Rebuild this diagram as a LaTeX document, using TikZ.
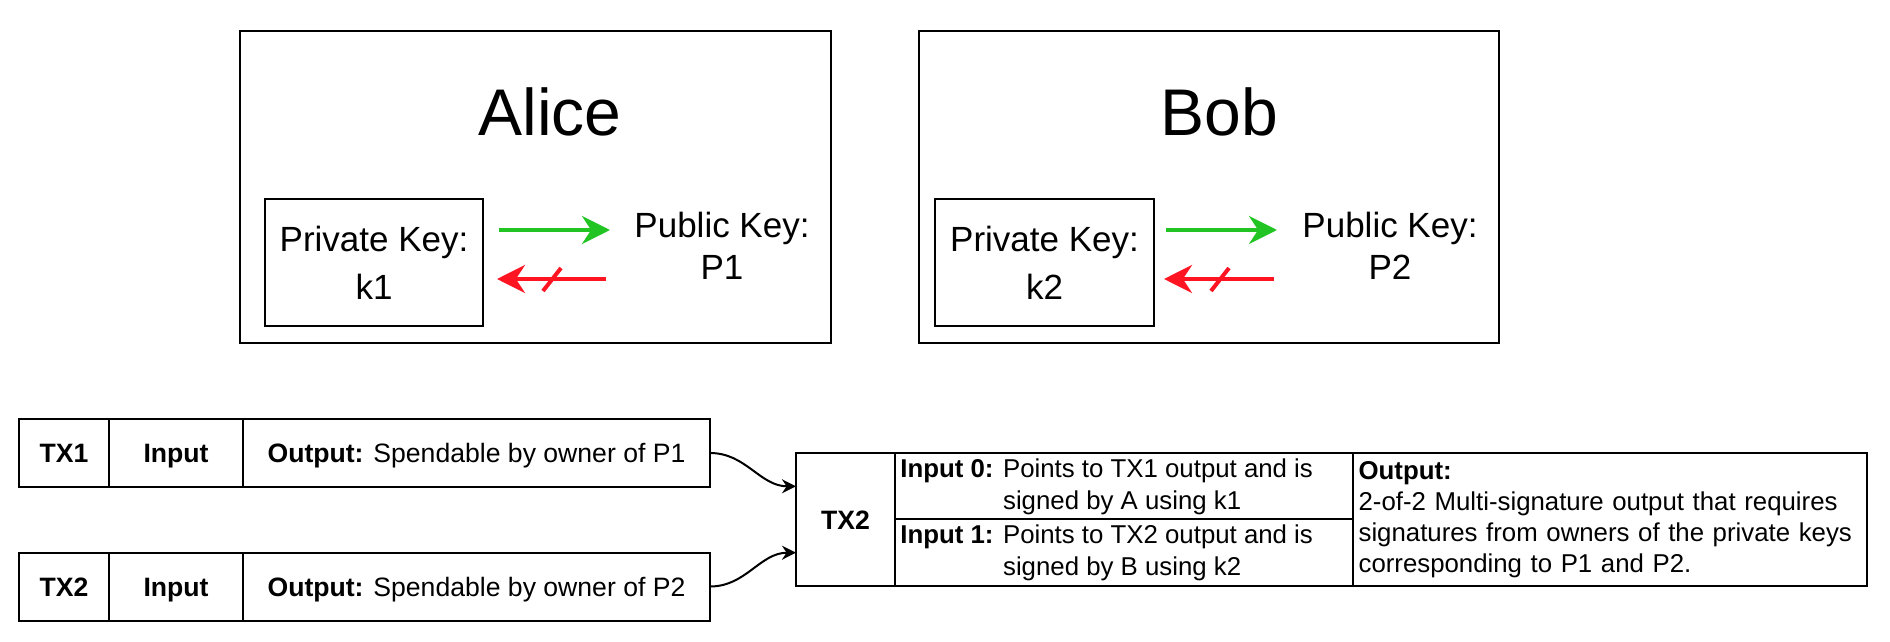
\documentclass[tikz,border=0pt]{standalone}
\usepackage{fontspec}
\setmainfont{Liberation Sans}
\usetikzlibrary{arrows.meta}

\definecolor{keygreen}{RGB}{34,196,36}
\definecolor{keyred}{RGB}{255,20,34}

\begin{document}
\begin{tikzpicture}[x=0.5pt,y=0.5pt,
    frame/.style={draw,line width=1pt,inner sep=0pt,outer sep=0pt},
    keytext/.style={align=center,inner sep=0pt,font=\fontsize{17.5}{24}\selectfont},
    owner/.style={anchor=base,inner sep=0pt,font=\fontsize{33}{40}\selectfont},
    cell/.style={draw,line width=1pt,inner sep=0pt,outer sep=0pt,minimum height=34pt,text height=9.5pt,text depth=0pt,font=\fontsize{13.3}{16}\selectfont},
    infotext/.style={inner sep=0pt,anchor=west,font=\fontsize{12.9}{16}\selectfont},
    wide/.style={draw,line width=1pt,inner xsep=2.8pt,inner ysep=0pt,outer sep=0pt,align=left,font=\fontsize{12.9}{15.5}\selectfont},
    derive/.style={draw=keygreen,line width=2pt,-{Stealth[length=14pt,width=14pt]}},
    noderive/.style={draw=keyred,line width=2pt,-{Stealth[length=14pt,width=14pt]}},
    spend/.style={draw,line width=1pt,-{Stealth[length=7pt,width=7pt]}}]
    \useasboundingbox (0,0) rectangle (1890,-642);

    \node[frame,minimum width=295.5pt,minimum height=156pt] (alice) at (535.5,-187) {};
    \node[owner] (alicename) at (550,-135) {Alice};
    \node[frame,keytext,minimum width=109pt,minimum height=63.5pt] (priv1) at (374,-262.5) {Private Key:\\k1};
    \node[keytext,font=\fontsize{17.5}{21}\selectfont] (pub1) at (722,-246) {Public Key:\\P1};
    \coordinate (ga1) at (499,-230);
    \coordinate (ga2) at (610,-230);
    \coordinate (ra1) at (606,-279);
    \coordinate (ra2) at (497,-279);
    \draw[derive] (ga1) -- (ga2);
    \draw[noderive] (ra1) -- (ra2);
    \draw[draw=keyred,line width=2pt] (543,-291) -- (561,-268);

    \node[frame,minimum width=290pt,minimum height=156pt] (bob) at (1209,-187) {};
    \node[owner] (bobname) at (1219,-135) {Bob};
    \node[frame,keytext,minimum width=109.5pt,minimum height=63.5pt] (priv2) at (1044.5,-262.5) {Private Key:\\k2};
    \node[keytext,font=\fontsize{17.5}{21}\selectfont] (pub2) at (1390,-246) {Public Key:\\P2};
    \coordinate (gb1) at (1166,-230);
    \coordinate (gb2) at (1277,-230);
    \coordinate (rb1) at (1274,-279);
    \coordinate (rb2) at (1164,-279);
    \draw[derive] (gb1) -- (gb2);
    \draw[noderive] (rb1) -- (rb2);
    \draw[draw=keyred,line width=2pt] (1211,-291) -- (1229,-268);

    \node[cell,minimum width=45pt] (tx1id) at (64,-453) {\textbf{TX1}};
    \node[cell,minimum width=67pt,anchor=west] (tx1in) at (tx1id.east) {\textbf{Input}};
    \node[cell,minimum width=233.5pt,anchor=west] (tx1out) at (tx1in.east) {\textbf{Output:} Spendable by owner of P1};

    \node[cell,minimum width=45pt] (tx2id) at (64,-586.5) {\textbf{TX2}};
    \node[cell,minimum width=67pt,anchor=west] (tx2in) at (tx2id.east) {\textbf{Input}};
    \node[cell,minimum width=233.5pt,anchor=west] (tx2out) at (tx2in.east) {\textbf{Output:} Spendable by owner of P2};

    \node[cell,minimum width=49.5pt,minimum height=66.5pt] (msid) at (845.5,-519.5) {\textbf{TX2}};
    \node[cell,minimum width=229pt,minimum height=33pt,anchor=north west] (msin0) at (msid.north east) {};
    \node[cell,minimum width=229pt,minimum height=33.5pt,anchor=north west] (msin1) at (msin0.south west) {};
    \node[infotext] (msin0txt) at ([xshift=2.5pt,yshift=-0.5pt]msin0.west)
        {\begin{tabular}{@{}l@{ }l@{}}\textbf{Input 0:} & Points to TX1 output and is\\ & signed by A using k1\end{tabular}};
    \node[infotext] (msin1txt) at ([xshift=2.5pt,yshift=-0.5pt]msin1.west)
        {\begin{tabular}{@{}l@{ }l@{}}\textbf{Input 1:} & Points to TX2 output and is\\ & signed by B using k2\end{tabular}};
    \node[wide,text width=251.4pt,minimum height=66.5pt,anchor=north west] (msout) at (msin0.north east)
        {\textbf{Output:}\\2-of-2 Multi-signature output that requires\\signatures from owners of the private keys\\corresponding to P1 and P2.};

    \draw[spend] (tx1out.east) to[out=0,in=180] ([yshift=16.6pt]msid.west);
    \draw[spend] (tx2out.east) to[out=0,in=180] ([yshift=-16.6pt]msid.west);
\end{tikzpicture}
\end{document}
